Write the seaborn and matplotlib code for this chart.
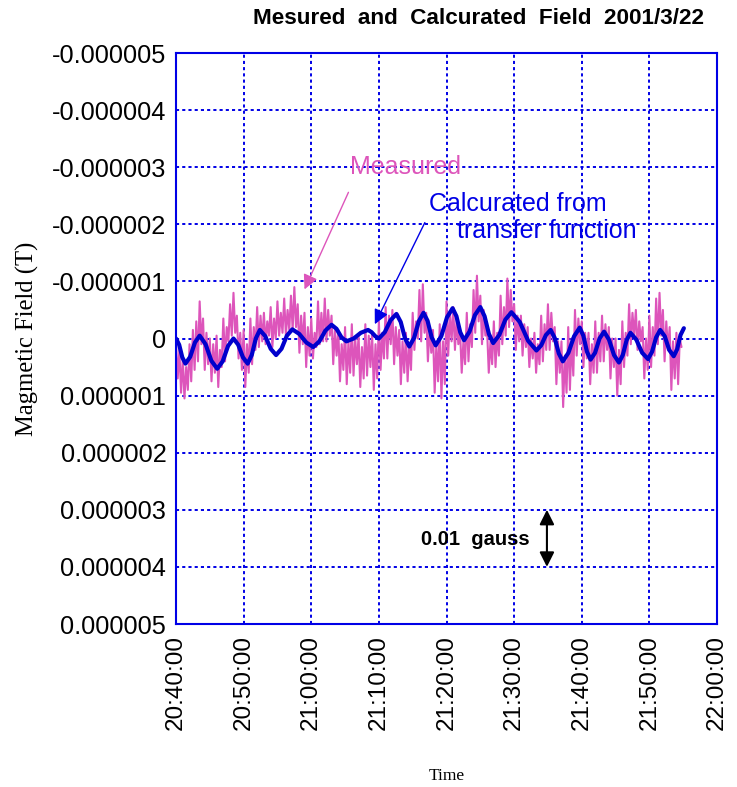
import numpy as np
import pandas as pd
import matplotlib
matplotlib.use("Agg")
import matplotlib.pyplot as plt
import matplotlib.dates as mdates
import matplotlib.ticker as mticker
import seaborn as sns

# ---- data -------------------------------------------------------------
start_time = "2001-03-22 20:40:00"
sample_step_min = 0.25  # magnetometer sampling interval (minutes)

# Measured field, micro-tesla (positive = downward on the plot), 4 samples / min
measured_uT = [
    0.05, 0.70, 0.20, 0.95,   0.35, 1.05, 0.50, 0.90,
    0.10, 0.75, -0.15, 0.55,  -0.30, 0.40, -0.65, 0.10,
    -0.35, 0.55, -0.10, 0.45, 0.00, 0.75, 0.10, 0.60,
    -0.05, 0.85, 0.20, 0.50,  -0.35, 0.40, -0.20, 0.05,
    -0.60, -0.05, -0.80, -0.10, -0.40, 0.35, -0.10, 0.55,
    -0.15, 0.85, 0.10, 0.60,  -0.35, 0.45, -0.20, 0.20,
    -0.55, 0.15, -0.40, 0.05, -0.45, 0.10, -0.30, -0.05,
    -0.55, 0.15, -0.35, 0.00, -0.65, -0.05, -0.45, -0.10,
    -0.70, -0.05, -0.50, -0.15, -0.75, -0.15, -0.90, -0.20,
    -0.60, 0.25, -0.40, 0.10, -0.45, 0.50, -0.20, 0.30,
    -0.35, 0.35, -0.10, 0.15, -0.65, 0.10, -0.45, 0.05,
    -0.70, 0.05, -0.50, -0.05, -0.40, 0.45, -0.15, 0.30,
    -0.15, 0.75, 0.10, 0.55,  -0.20, 0.80, 0.05, 0.60,
    -0.25, 0.65, 0.00, 0.45,  -0.05, 0.85, 0.15, 0.70,
    -0.25, 0.65, -0.05, 0.50, -0.10, 0.90, 0.10, 0.70,
    -0.30, 0.55, -0.10, 0.35, -0.55, 0.35, -0.40, 0.10,
    -0.50, 0.45, -0.20, 0.30, -0.15, 0.80, 0.05, 0.60,
    -0.10, 0.75, 0.10, 0.55,  -0.45, 0.20, -0.30, 0.00,
    -0.85, 0.05, -0.95, -0.10, -0.45, 0.40, -0.20, 0.25,
    -0.15, 0.95, 0.10, 0.75,  -0.25, 1.05, 0.05, 0.80,
    -0.65, 0.30, -0.45, 0.05, -0.55, 0.20, -0.35, 0.10,
    -0.15, 0.60, 0.05, 0.45,  -0.45, 0.40, -0.25, 0.15,
    -0.85, -0.10, -1.10, -0.30, -0.75, 0.10, -0.50, -0.05,
    -0.15, 0.60, 0.05, 0.45,  -0.30, 0.50, -0.10, 0.30,
    -0.75, 0.10, -0.55, -0.05, -1.05, -0.20, -0.85, -0.30,
    -0.60, 0.20, -0.40, 0.05, -0.40, 0.30, -0.25, 0.15,
    -0.20, 0.50, 0.00, 0.35,  -0.10, 0.60, 0.10, 0.45,
    -0.40, 0.40, -0.25, 0.20, -0.60, 0.20, -0.45, 0.05,
    -0.20, 0.80, 0.05, 0.60,  0.05, 1.20, 0.30, 0.95,
    -0.20, 0.90, 0.00, 0.65,  -0.50, 0.30, -0.35, 0.10,
    -0.30, 0.50, -0.10, 0.35, -0.10, 0.80, 0.10, 0.60,
    -0.30, 0.60, -0.10, 0.40, -0.40, 0.40, -0.25, 0.20,
    -0.20, 0.70, 0.00, 0.50,  0.00, 1.00, 0.20, 0.80,
    -0.30, 0.50, -0.10, 0.30, -0.60, 0.10, -0.45, -0.05,
    -0.50, 0.20, -0.30, 0.05, -0.20, 0.70, 0.00, 0.55,
    -0.40, 0.50, -0.20, 0.30, -0.70, 0.10, -0.80, -0.05,
    -0.50, 0.40, -0.30, 0.20, -0.20, 0.90, 0.05, 0.70,
    -0.10, 0.80, 0.00, 0.15,
]

# Field calculated from the transfer function (minutes after start, micro-tesla)
calc_min = [
    0.0, 0.47, 0.93, 1.4, 2.1, 2.8, 3.5, 4.37, 5.23, 6.1, 6.9, 7.7,
    8.5, 9.2, 9.9, 10.6, 11.2, 11.8, 12.4, 13.2, 14.0, 14.8, 15.6, 16.4,
    17.2, 18.23, 19.27, 20.3, 21.2, 22.1, 23.0, 23.73, 24.47, 25.2, 26.27, 27.33,
    28.4, 28.93, 29.47, 30.0, 30.87, 31.73, 32.6, 33.23, 33.87, 34.5, 35.2, 35.9,
    36.6, 37.2, 37.8, 38.4, 39.23, 40.07, 40.9, 41.47, 42.03, 42.6, 43.4, 44.2,
    45.0, 45.63, 46.27, 46.9, 47.8, 48.7, 49.6, 50.83, 52.07, 53.3, 54.0, 54.7,
    55.4, 56.0, 56.6, 57.2, 58.03, 58.87, 59.7, 60.23, 60.77, 61.3, 61.97, 62.63,
    63.3, 64.03, 64.77, 65.5, 66.07, 66.63, 67.2, 68.07, 68.93, 69.8, 70.4, 71.0,
    71.6, 72.27, 72.93, 73.6, 74.1, 74.6, 75.1,
]
calc_uT = [
    0.00, 0.11, 0.33, 0.44, 0.32, 0.07, -0.05, 0.10, 0.39, 0.53, 0.40, 0.13,
    0.00, 0.11, 0.33, 0.44, 0.29, 0.00, -0.15, -0.04, 0.18, 0.29, 0.18, -0.05,
    -0.16, -0.08, 0.07, 0.15, 0.05, -0.14, -0.24, -0.17, -0.02, 0.05, 0.00, -0.10,
    -0.15, -0.11, -0.04, 0.00, -0.11, -0.32, -0.43, -0.29, 0.00, 0.14, -0.01, -0.30,
    -0.45, -0.31, -0.02, 0.12, -0.04, -0.37, -0.53, -0.39, -0.11, 0.03, -0.12, -0.41,
    -0.55, -0.39, -0.08, 0.08, -0.06, -0.33, -0.46, -0.29, 0.04, 0.21, 0.12, -0.06,
    -0.15, -0.01, 0.26, 0.40, 0.25, -0.04, -0.19, -0.05, 0.23, 0.37, 0.25, 0.00,
    -0.12, 0.02, 0.29, 0.42, 0.29, 0.03, -0.10, 0.02, 0.25, 0.36, 0.23, -0.02,
    -0.15, -0.04, 0.20, 0.31, 0.19, -0.06, -0.18,
]

y_ticks_T = [-5e-6, -4e-6, -3e-6, -2e-6, -1e-6, 0.0, 1e-6, 2e-6, 3e-6, 4e-6, 5e-6]
x_start, x_end = "2001-03-22 20:40:00", "2001-03-22 22:00:00"
scale_bar_T = (3e-6, 4e-6)  # 0.01 gauss = 1e-6 T

# ---- frames -----------------------------------------------------------
t0 = pd.Timestamp(start_time)
meas_df = pd.DataFrame({
    "time": t0 + pd.to_timedelta(np.arange(len(measured_uT)) * sample_step_min, unit="min"),
    "field": np.array(measured_uT) * 1e-6,
})
calc_df = pd.DataFrame({
    "time": t0 + pd.to_timedelta(calc_min, unit="min"),
    "field": np.array(calc_uT) * 1e-6,
})


def tnum(minutes):
    return mdates.date2num(t0 + pd.Timedelta(minutes=minutes))


# ---- style ------------------------------------------------------------
sns.set_theme(style="white")
plt.rcParams["font.family"] = ["Liberation Sans", "DejaVu Sans"]
plt.rcParams["text.color"] = "black"
plt.rcParams["axes.labelcolor"] = "black"
plt.rcParams["xtick.color"] = "black"
plt.rcParams["ytick.color"] = "black"

BLUE = "#0000e6"
PINK = "#dd55bb"
CALC = "#0000cc"

fig = plt.figure(figsize=(7.37, 7.87), dpi=100)
ax = fig.add_axes([176 / 737, 1 - 624 / 787, (717 - 176) / 737, (624 - 53) / 787])

sns.lineplot(data=meas_df, x="time", y="field", ax=ax, color=PINK,
             linewidth=1.5, estimator=None, sort=False)
sns.lineplot(data=calc_df, x="time", y="field", ax=ax, color=CALC,
             linewidth=3.0, estimator=None, sort=False)

ax.set_xlim(pd.Timestamp(x_start), pd.Timestamp(x_end))
ax.set_ylim(y_ticks_T[-1], y_ticks_T[0])  # inverted axis
ax.set_yticks(y_ticks_T)
ax.yaxis.set_major_formatter(mticker.FuncFormatter(
    lambda v, p: "0" if abs(v) < 1e-12 else f"{v:.6f}"))
ax.xaxis.set_major_locator(mdates.MinuteLocator(byminute=[0, 10, 20, 30, 40, 50]))
ax.xaxis.set_major_formatter(mdates.DateFormatter("%H:%M:%S"))

ax.grid(True, color=BLUE, linestyle=(0, (1.6, 1.6)), linewidth=1.4)
for s in ax.spines.values():
    s.set_color(BLUE)
    s.set_linewidth(1.5)
ax.tick_params(axis="y", direction="in", length=5, color=BLUE, labelcolor="black",
               labelsize=18.3, pad=7)
ax.tick_params(axis="x", direction="in", length=5, color=BLUE, labelcolor="black",
               labelsize=17.5, labelrotation=90, pad=8)

ax.set_xlabel("Time", fontsize=12.5, family=["Liberation Serif", "DejaVu Serif"],
              labelpad=27, color="black")
ax.set_ylabel("Magmetic Field (T)", fontsize=17.7, family=["Liberation Serif", "DejaVu Serif"],
              labelpad=9, color="black")

fig.text(478 / 737, 1 - 18 / 787, "Mesured  and  Calcurated  Field  2001/3/22",
         ha="center", va="center", fontsize=16.2, fontweight="bold", color="black")

# annotations
ax.annotate("", xy=(tnum(19.0), -0.86e-6), xytext=(tnum(25.5), -2.56e-6),
            arrowprops=dict(arrowstyle="-|>", color=PINK, lw=1.0,
                            mutation_scale=22, shrinkA=0, shrinkB=0))
ax.text(tnum(34.0), -3.0e-6, "Measured", color=PINK, fontsize=18,
        ha="center", va="center")

ax.annotate("", xy=(tnum(29.4), -0.25e-6), xytext=(tnum(36.8), -2.03e-6),
            arrowprops=dict(arrowstyle="-|>", color=BLUE, lw=1.0,
                            mutation_scale=22, shrinkA=0, shrinkB=0))
ax.text(tnum(50.5), -2.35e-6, "Calcurated from", color=BLUE, fontsize=18,
        ha="center", va="center")
ax.text(tnum(54.9), -1.89e-6, "transfer function", color=BLUE, fontsize=18,
        ha="center", va="center")

ax.annotate("", xy=(tnum(54.85), scale_bar_T[0]), xytext=(tnum(54.85), scale_bar_T[1]),
            arrowprops=dict(arrowstyle="<|-|>", color="black", lw=1.5,
                            mutation_scale=22, shrinkA=0, shrinkB=0))
ax.text(tnum(44.3), 3.52e-6, "0.01  gauss", color="black", fontsize=14.5,
        fontweight="bold", ha="center", va="center")

fig.savefig("out.png", dpi=100)
